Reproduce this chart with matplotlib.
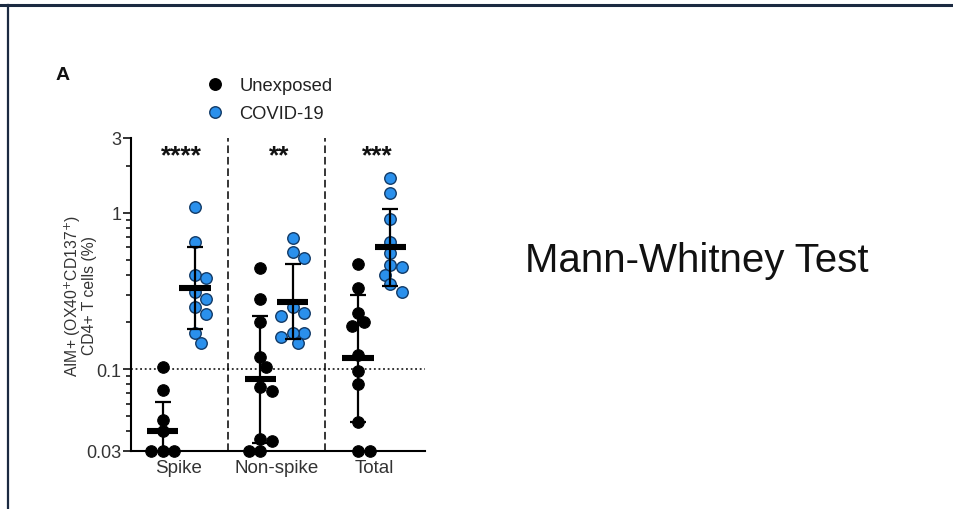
import numpy as np
import matplotlib
matplotlib.use("Agg")
import matplotlib.pyplot as plt
from matplotlib.lines import Line2D
from matplotlib.ticker import LogLocator, NullFormatter, FixedLocator, FixedFormatter

plt.rcParams['font.family'] = ['Liberation Sans', 'DejaVu Sans']

# ---------------- data ----------------
categories = ["Spike", "Non-spike", "Total"]
groups = ["Unexposed", "COVID-19"]
significance = ["****", "**", "***"]

spike_unexposed = [0.104, 0.074, 0.047, 0.040, 0.03, 0.03, 0.03]
spike_covid = [1.09, 0.65, 0.40, 0.38, 0.31, 0.28, 0.25, 0.226, 0.17, 0.146]
nonspike_unexposed = [0.44, 0.28, 0.20, 0.12, 0.104, 0.077, 0.072, 0.036, 0.035, 0.03, 0.03]
nonspike_covid = [0.69, 0.56, 0.51, 0.25, 0.23, 0.22, 0.17, 0.17, 0.16, 0.148]
total_unexposed = [0.47, 0.33, 0.23, 0.20, 0.19, 0.124, 0.097, 0.08, 0.046, 0.03, 0.03]
total_covid = [1.66, 1.34, 0.91, 0.65, 0.55, 0.46, 0.45, 0.40, 0.35, 0.31]

# geometric mean and upper end of geometric SD bar
unexposed_mean = [0.040, 0.086, 0.117]
unexposed_upper = [0.062, 0.22, 0.30]
covid_mean = [0.33, 0.27, 0.60]
covid_upper = [0.60, 0.47, 1.06]

yticks = [0.03, 0.1, 1, 3]
ytick_labels = ["0.03", "0.1", "1", "3"]

# ---------------- figure ----------------
W, H = 954, 510
fig = plt.figure(figsize=(W / 100, H / 100), dpi=100)
ax = fig.add_axes([131 / W, 1 - 452 / H, (425 - 131) / W, (452 - 139) / H])

ax.set_yscale('log')
ax.set_ylim(0.03, 3)
ax.set_xlim(-0.49, 2.52)

BLUE = '#2a90ec'
EDGE_BLUE = '#123a66'
offset = 0.165
dot_px = 11.5
ms_pt = dot_px * 0.72

unexposed_sets = [spike_unexposed, nonspike_unexposed, total_unexposed]
covid_sets = [spike_covid, nonspike_covid, total_covid]

fig.canvas.draw()
trans = ax.transData
px_per_x = (trans.transform((1, 1))[0] - trans.transform((0, 1))[0])


def swarm(vals, xc, d):
    """simple beeswarm in pixel space"""
    order = np.argsort(vals)[::-1]
    placed = []
    xs = np.zeros(len(vals))
    ypx = [trans.transform((0, v))[1] for v in vals]
    cands = [0]
    for k in range(1, 12):
        cands += [k * 0.5 * d, -k * 0.5 * d]
    for i in order:
        for c in cands:
            ok = True
            for (px, py) in placed:
                if (px - c) ** 2 + (py - ypx[i]) ** 2 < (d * 0.92) ** 2:
                    ok = False
                    break
            if ok:
                placed.append((c, ypx[i]))
                xs[i] = xc + c / px_per_x
                break
    return xs


for i in range(3):
    xu = swarm(unexposed_sets[i], i - offset, dot_px)
    ax.scatter(xu, unexposed_sets[i], s=ms_pt ** 2, color='black',
               edgecolor='black', linewidth=0.8, zorder=3, clip_on=False)
    xc = swarm(covid_sets[i], i + offset, dot_px)
    ax.scatter(xc, covid_sets[i], s=ms_pt ** 2, color=BLUE,
               edgecolor=EDGE_BLUE, linewidth=1.0, zorder=3, clip_on=False)

for means, uppers, sgn in [(unexposed_mean, unexposed_upper, -1),
                           (covid_mean, covid_upper, 1)]:
    for i in range(3):
        x = i + sgn * offset
        m, u = means[i], uppers[i]
        lo = m * m / u
        ax.errorbar([x], [m], yerr=[[m - lo], [u - m]], fmt='none',
                    ecolor='black', elinewidth=1.6, capsize=5.5,
                    capthick=1.6, zorder=5, clip_on=True)
        ax.plot([x - 0.16, x + 0.16], [m, m], color='black', lw=4.4,
                solid_capstyle='butt', zorder=6)

# separators and reference line
for xs in [0.5, 1.5]:
    ax.axvline(xs, color='black', lw=1.1, ls=(0, (5, 2.5)), zorder=1)
ax.axhline(0.1, color='black', lw=1.1, ls=(0, (1.2, 1.8)), zorder=1)

# significance stars
for i, s in enumerate(significance):
    ax.text(i + 0.03, 2.10, s, ha='center', va='baseline', fontsize=19,
            fontweight='bold', color='#111111')

# axes styling
ax.spines['top'].set_visible(False)
ax.spines['right'].set_visible(False)
ax.spines['left'].set_linewidth(1.5)
ax.spines['bottom'].set_linewidth(1.5)
ax.yaxis.set_major_locator(FixedLocator(yticks))
ax.yaxis.set_major_formatter(FixedFormatter(ytick_labels))
ax.yaxis.set_minor_locator(LogLocator(base=10, subs=np.arange(2, 10)))
ax.yaxis.set_minor_formatter(NullFormatter())
ax.tick_params(axis='y', which='major', length=6, width=1.3, labelsize=13,
               pad=1, colors='#222222', labelcolor='#333333')
ax.tick_params(axis='y', which='minor', length=3.5, width=1.1)
ax.set_xticks(range(3))
ax.set_xticklabels(categories)
ax.tick_params(axis='x', length=0, labelsize=13.5, pad=6, labelcolor='#333333')

ax.set_ylabel("AIM+ (OX40$^{+}$CD137$^{+}$)\nCD4+ T cells (%)", fontsize=11.3,
              color='#333333', linespacing=0.95)
ax.yaxis.set_label_coords((97 - 131) / (425 - 131), 0.5)

# legend
handles = [Line2D([], [], marker='o', ls='none', color='black', ms=ms_pt,
                  markeredgecolor='black'),
           Line2D([], [], marker='o', ls='none', color=BLUE, ms=ms_pt,
                  markeredgecolor=EDGE_BLUE)]
fig.legend(handles, groups, loc='upper left',
           bbox_to_anchor=(200 / W, 1 - 78 / H), frameon=False,
           fontsize=13.2, handlelength=1.6, handletextpad=0.55,
           labelspacing=0.62, borderaxespad=0, borderpad=0,
           labelcolor='#222222')

# panel letter
fig.text(56 / W, 1 - 75 / H, "A", fontsize=14, fontweight='bold',
         ha='left', va='center', color='#111111')

# annotation
fig.text(697 / W, 1 - 272 / H, "Mann-Whitney Test", fontsize=29,
         ha='center', va='baseline', color='#111111')

# slide border (top and left)
fig.add_artist(Line2D([0, 1], [1 - 6 / H, 1 - 6 / H], color='#1b2a41',
                      lw=2.2, transform=fig.transFigure))
fig.add_artist(Line2D([8.5 / W, 8.5 / W], [0, 1 - 6 / H], color='#1b2a41',
                      lw=1.6, transform=fig.transFigure))

fig.savefig("out.png", dpi=100)
